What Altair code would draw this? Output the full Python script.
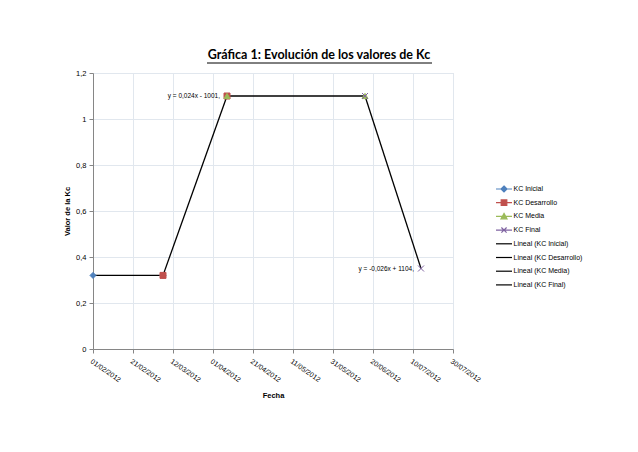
import altair as alt
import pandas as pd

# ---- data ----
series = ["KC Inicial", "KC Desarrollo", "KC Media", "KC Final"]
start_dates = ["2012-02-01", "2012-03-07", "2012-04-08", "2012-06-16"]
end_dates = ["2012-03-07", "2012-04-08", "2012-06-16", "2012-07-14"]
start_vals = [0.32, 0.32, 1.10, 1.10]
end_vals = [0.32, 1.10, 1.10, 0.35]
trend_labels = ["", "y = 0,024x - 1001,", "", "y = -0,026x + 1104,"]
legend_entries = series + ["Lineal (KC Inicial)", "Lineal (KC Desarrollo)",
                           "Lineal (KC Media)", "Lineal (KC Final)"]
tick_dates = ["2012-02-01", "2012-02-21", "2012-03-12", "2012-04-01", "2012-04-21",
              "2012-05-11", "2012-05-31", "2012-06-20", "2012-07-10", "2012-07-30"]
y_ticks = [0, 0.2, 0.4, 0.6, 0.8, 1.0, 1.2]
title_text = "Gráfica 1: Evolución de los valores de Kc"

# ---- styles ----
colors = ["#4F81BD", "#C0504D", "#9BBB59", "#8064A2"]
XPATH = "M-1,-1L1,1M-1,1L1,-1"
marker_shapes = ["diamond", "square", "triangle-up", XPATH]
leg_shapes = [
    "M-2,0H2M0,-0.75L0.75,0L0,0.75L-0.75,0Z",
    "M-2,0H2M-0.7,-0.7H0.7V0.7H-0.7Z",
    "M-2,0H2M0,-0.75L0.75,0.6H-0.75Z",
    "M-2,0H2M-0.65,-0.65L0.65,0.65M-0.65,0.65L0.65,-0.65",
    "M-2,0H2", "M-2,0H2", "M-2,0H2", "M-2,0H2",
]
leg_colors = colors + ["#000000"] * 4
FONT = "Liberation Sans"
GRID = "#e1e7ee"
AXIS = "#868686"


def dt(s):
    y, m, d = (int(p) for p in s.split("-"))
    return alt.DateTime(year=y, month=m, date=d, utc=True)


rows = []
for i, s in enumerate(series):
    rows.append(dict(series=s, date=start_dates[i], value=start_vals[i], k=2 * i))
    rows.append(dict(series=s, date=end_dates[i], value=end_vals[i], k=2 * i + 1))
pts = pd.DataFrame(rows)

lab = pd.DataFrame(dict(series=series, date=end_dates, value=end_vals, label=trend_labels))
lab = lab[lab["label"] != ""]

leg_df = pd.DataFrame(dict(leg=legend_entries))

x_enc = alt.X(
    "date:T",
    scale=alt.Scale(type="utc", domain=[dt(tick_dates[0]), dt(tick_dates[-1])]),
    axis=alt.Axis(
        values=[dt(d) for d in tick_dates],
        labelExpr="utcFormat(datum.value, '%d/%m/%Y')",
        labelAngle=35, labelFontSize=7, labelFont=FONT, labelColor="#000",
        labelAlign="left", labelBaseline="top",
        title="Fecha", titleFontSize=7.5, titleFont=FONT, titleFontWeight="bold",
        titlePadding=9, grid=True, gridColor=GRID, domainColor=AXIS,
        tickColor=AXIS, tickSize=4, labelPadding=4,
    ),
)
y_enc = alt.Y(
    "value:Q",
    scale=alt.Scale(domain=[0, 1.2]),
    axis=alt.Axis(
        values=y_ticks,
        labelExpr="replace(format(datum.value, '~g'), '.', ',')",
        labelFontSize=7.5, labelFont=FONT, labelColor="#000",
        title="Valor de la Kc", titleFontSize=7.5, titleFont=FONT,
        titleFontWeight="bold", titlePadding=4, grid=True, gridColor=GRID,
        domainColor=AXIS, tickColor=AXIS, tickSize=4, labelPadding=3,
    ),
)

lines = alt.Chart(pts).mark_line(color="black", strokeWidth=1.3).encode(
    x=x_enc, y=y_enc, detail="series:N", order="k:Q"
)

points = alt.Chart(pts).mark_point(size=36, opacity=1, strokeWidth=1).encode(
    x=x_enc, y=y_enc,
    fill=alt.Fill("series:N", scale=alt.Scale(domain=series, range=colors), legend=None),
    stroke=alt.Stroke("series:N", scale=alt.Scale(domain=series, range=colors), legend=None),
    shape=alt.Shape("series:N", scale=alt.Scale(domain=series, range=marker_shapes), legend=None),
)

labels = alt.Chart(lab).mark_text(
    align="right", baseline="middle", dx=-7, fontSize=6.5, font=FONT, color="#000"
).encode(x=x_enc, y=y_enc, text="label:N")

leg = alt.Legend(
    title=None, orient="none", legendX=406, legendY=111, symbolSize=64,
    labelFontSize=7, labelFont=FONT, labelColor="#000", rowPadding=1.7,
    labelOffset=4.5, symbolStrokeWidth=1.2, gridAlign="all",
)
legend_layer = alt.Chart(leg_df).transform_filter("false").mark_point(
    size=64, strokeWidth=1.2, opacity=1
).encode(
    fill=alt.Fill("leg:N", scale=alt.Scale(domain=legend_entries, range=leg_colors), legend=leg),
    stroke=alt.Stroke("leg:N", scale=alt.Scale(domain=legend_entries, range=leg_colors), legend=leg),
    shape=alt.Shape("leg:N", scale=alt.Scale(domain=legend_entries, range=leg_shapes), legend=leg),
)

underline = alt.Chart(alt.Data(values=[{}])).mark_rule(color="black", strokeWidth=1).encode(
    x=alt.value(114), x2=alt.value(339), y=alt.value(-10)
)

chart = alt.layer(lines, points, labels, legend_layer, underline).resolve_scale(
    fill="independent", stroke="independent", shape="independent"
).properties(
    width=360, height=276,
    title=alt.TitleParams(title_text, font="Lato", fontSize=12.5, fontWeight="bold",
                          anchor="middle", dx=46, offset=1, color="#000"),
    autosize=alt.AutoSizeParams(type="none"),
    padding={"left": 85, "top": 65, "right": 177, "bottom": 95},
).configure_view(stroke=None).configure(background="white")

chart.save("out.html", embed_options={"renderer": "svg", "actions": False})
